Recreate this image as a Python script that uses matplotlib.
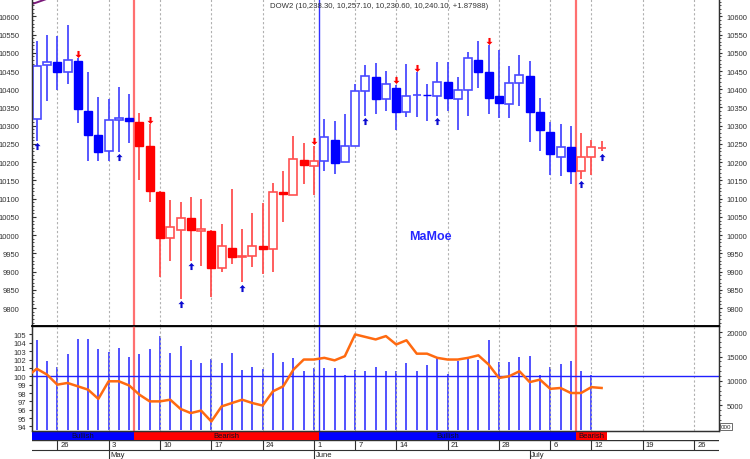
import numpy as np
import matplotlib.pyplot as plt
from matplotlib.path import Path

plt.rcParams['font.family'] = ['Liberation Sans Narrow', 'Liberation Sans', 'DejaVu Sans']

# daily OHLC (trading day index 0 = Apr 22)
opens = [10318, 10467, 10476, 10448, 10478, 10341, 10275, 10231, 10317, 10321,
         10309, 10244, 10118, 9992, 10014, 10047, 10011, 10011, 9909, 9964,
         9941, 9942, 9969, 9962, 10118, 10111, 10206, 10189, 10203, 10262,
         10200, 10245, 10394, 10433, 10373, 10404, 10339, 10384, 10385, 10381,
         10421, 10373, 10399, 10480, 10448, 10381, 10359, 10417, 10437, 10337,
         10282, 10215, 10241, 10175, 10215, 10238.3]
highs = [10533, 10549, 10547, 10576, 10485, 10448, 10378, 10373, 10405, 10387,
         10335, 10305, 10120, 10097, 10092, 10104, 10099, 10013, 10031, 10127,
         10017, 10061, 10087, 10142, 10177, 10273, 10253, 10245, 10319, 10314,
         10332, 10415, 10467, 10472, 10451, 10413, 10468, 10446, 10415, 10476,
         10474, 10433, 10501, 10533, 10520, 10509, 10465, 10494, 10478, 10375,
         10311, 10305, 10300, 10279, 10262, 10257.1]
lows = [10259, 10369, 10399, 10414, 10308, 10204, 10204, 10204, 10229, 10253,
        10150, 10090, 9885, 9930, 9825, 9930, 9915, 9830, 9898, 9921,
        9871, 9912, 9894, 9898, 10037, 10111, 10140, 10110, 10177, 10168,
        10200, 10245, 10328, 10332, 10341, 10287, 10323, 10325, 10314, 10328,
        10341, 10287, 10328, 10403, 10332, 10320, 10320, 10355, 10256, 10232,
        10165, 10161, 10139, 10154, 10165, 10230.6]
closes = [10465, 10476, 10448, 10481, 10346, 10275, 10229, 10317, 10321, 10314,
          10244, 10122, 9992, 10023, 10047, 10014, 10017, 9909, 9971, 9939,
          9942, 9971, 9962, 10119, 10113, 10209, 10191, 10204, 10268, 10198,
          10245, 10396, 10436, 10372, 10414, 10339, 10382, 10385, 10383, 10419,
          10376, 10399, 10485, 10448, 10376, 10362, 10417, 10439, 10339, 10287,
          10223, 10243, 10175, 10215, 10243, 10240.1]

buy_arrows = [0, 8, 14, 15, 20, 32, 39, 53, 55]
sell_arrows = [4, 11, 27, 35, 37, 44]

# trend signal changes (day index, new state)
signal_days = [10, 28, 53]
signal_states = ['Bearish', 'Bullish', 'Bearish']
first_state = 'Bullish'
last_day = 56

# band line running off the top at the left
band_x = [-1, 0, 1, 2]
band = [10629, 10638, 10648, 10657]

volume = [18300, 14070, 12940, 15420, 18650, 18650, 16490, 15970, 16770, 14820,
          15420, 16630, 19310, 15620, 17180, 14270, 13610, 14480, 13610, 15620,
          12260, 12940, 12400, 15620, 13950, 14620, 12060, 12600, 12740, 12600,
          11250, 12260, 12060, 12940, 11940, 11940, 13610, 12060, 13270, 14760,
          11390, 14070, 14620, 14270, 18300, 13810, 13950, 14820, 15160, 11130,
          12940, 13470, 14070, 12060, 11250]

# oscillator, starts one day before the first candle
osc = [99.9, 100.9, 100.2, 99.0, 99.2, 98.8, 98.4, 97.3, 99.4, 99.4, 98.9,
       97.8, 97.0, 97.0, 97.2, 96.1, 95.6, 95.9, 94.6, 96.4, 96.8,
       97.2, 96.8, 96.5, 98.2, 98.8, 100.8, 102.0, 102.0, 102.2, 101.9,
       102.4, 105.0, 104.7, 104.4, 104.8, 103.8, 104.3, 102.7, 102.7, 102.2,
       102.0, 102.0, 102.2, 102.5, 101.4, 99.8, 100.0, 100.6, 99.3, 99.6,
       98.5, 98.6, 98.0, 98.0, 98.7, 98.6]

week_idx = [2, 7, 12, 17, 22, 27, 31, 35, 40, 45, 50, 54, 59, 64]
week_labels = ['26', '3', '10', '17', '24', '1', '7', '14', '21', '28', '6', '12', '19', '26']
month_idx = [7, 27, 48]
month_labels = ['May', 'June', 'July']

title = 'DOW2 (10,238.30, 10,257.10, 10,230.60, 10,240.10, +1.87988)'

BLUE = '#0000ff'
RED = '#ff0000'
XLIM = (-0.46, 66.43)


def box(left, top, right, bottom):
    # pixel box -> figure fraction
    return [left / 750, 1 - bottom / 460, (right - left) / 750, (bottom - top) / 460]


fig = plt.figure(figsize=(7.5, 4.6), dpi=100)
ax = fig.add_axes(box(32, 0, 719, 327.3))
axl = fig.add_axes(box(32, 327.3, 719, 431.5))
axb = fig.add_axes(box(32, 431.5, 719, 441))
axd = fig.add_axes(box(32, 441, 719, 460))

# state of each day
n = len(opens)
bull = []
for i in range(n):
    state = first_state
    for d, s in zip(signal_days, signal_states):
        if i >= d:
            state = s
    bull.append(state == 'Bullish')

# ---- main price panel
for i in range(n):
    col = BLUE if bull[i] else RED
    wick = '#4a4aff' if bull[i] else '#ff5050'
    ax.vlines(i, lows[i], highs[i], color=wick, lw=1.3, zorder=2)
    lo = min(opens[i], closes[i])
    h = abs(closes[i] - opens[i])
    if closes[i] >= opens[i]:
        ax.bar(i, h, bottom=lo, width=0.78, facecolor='white', edgecolor=wick, lw=1.2, zorder=3)
    else:
        ax.bar(i, h, bottom=lo, width=0.78, facecolor=col, edgecolor=col, lw=1.0, zorder=3)

up = Path([(0, 1), (0.85, 0.1), (0.3, 0.1), (0.3, -1), (-0.3, -1), (-0.3, 0.1), (-0.85, 0.1), (0, 1)])
down = Path([(x, -y) for x, y in up.vertices])
ax.scatter(buy_arrows, [lows[i] - 15 for i in buy_arrows], marker=up, s=26, color='#0a0ad0', zorder=4, lw=0)
ax.scatter(sell_arrows, [highs[i] + 12 for i in sell_arrows], marker=down, s=26, color=RED, zorder=4, lw=0)

ax.plot(band_x, band, color='#7a1a7a', lw=1.4, zorder=2)

for a in (ax, axl):
    a.vlines(week_idx, 0, 1, transform=a.get_xaxis_transform(), color='#b0b0b0',
             lw=0.8, linestyle=(0, (2, 2)), zorder=1)
    for d, s in zip(signal_days, signal_states):
        if s == 'Bullish':
            a.axvline(d - 0.5, color='#3030ff', lw=1.0, zorder=1.5)
        else:
            a.axvline(d - 0.5, color='#ff7070', lw=1.6, zorder=1.5)

ax.set_xlim(XLIM)
ax.set_ylim(9750, 10647.5)
ax.set_xticks([])
yt = np.arange(9800, 10601, 50)
ax.set_yticks(yt)
ax.set_yticks(np.arange(9760, 10641, 10), minor=True)
ax.tick_params(axis='y', which='both', direction='in', labelsize=5.5, colors='#333333', pad=9)
ax.tick_params(axis='y', which='major', length=3)
ax.tick_params(axis='y', which='minor', length=1.5)
ax2 = ax.twinx()
ax2.set_ylim(ax.get_ylim())
ax2.set_yticks(yt)
ax2.set_yticks(np.arange(9760, 10641, 10), minor=True)
ax2.tick_params(axis='y', which='both', direction='out', labelsize=5.5, colors='#333333', pad=3)
ax2.tick_params(axis='y', which='major', length=2.5)
ax2.tick_params(axis='y', which='minor', length=1.2)
for a in (ax, ax2):
    a.spines['top'].set_visible(False)
    for s in ('left', 'right', 'bottom'):
        a.spines[s].set_color('#303030')
        a.spines[s].set_linewidth(0.9)

fig.text(270 / 750, 1 - 6 / 460, title, fontsize=5.6, color='#333333', va='center', ha='left')
fig.text(430 / 750, 1 - 237 / 460, 'MaMoe', fontsize=9, fontweight='bold', color='#2626ff',
         family='Liberation Sans', ha='center', va='center')

# ---- lower panel: oscillator + volume
axv = axl.twinx()
axv.vlines(np.arange(len(volume)), 0, volume, color='#3434ff', lw=1.2)
axv.set_ylim(-200, 21208)
axv.set_yticks([5000, 10000, 15000, 20000])
axv.set_yticks(np.arange(1000, 21000, 1000), minor=True)
axv.tick_params(axis='y', which='both', direction='out', labelsize=5.5, colors='#333333', pad=3)
axv.tick_params(axis='y', which='major', length=2.5)
axv.tick_params(axis='y', which='minor', length=1.2)

axl.set_zorder(axv.get_zorder() + 1)
axl.patch.set_visible(False)
axl.axhline(100, color='#2020ff', lw=1.0, zorder=2)
axl.plot(np.arange(-1, len(osc) - 1), osc, color='#ff6a10', lw=1.8, zorder=3)
axl.set_xlim(XLIM)
axl.set_ylim(93.52, 105.97)
axl.set_xticks([])
axl.set_yticks(np.arange(94, 106, 1))
axl.tick_params(axis='y', direction='out', length=2, labelsize=5.5, colors='#333333', pad=2)
for a in (axl, axv):
    for s in ('left', 'right', 'bottom'):
        a.spines[s].set_color('#303030')
        a.spines[s].set_linewidth(0.9)
    a.spines['top'].set_color('black')
    a.spines['top'].set_linewidth(1.1)
axv.set_xlim(XLIM)

fig.text(721 / 750, 1 - 427.5 / 460, '000', fontsize=4.5, color='#333333', va='center', ha='left',
         bbox=dict(boxstyle='square,pad=0.15', fc='white', ec='#333333', lw=0.5))

# ---- bullish / bearish strip
edges = [XLIM[0]] + [d - 0.5 for d in signal_days] + [last_day - 0.5]
states = [first_state] + signal_states
for k, s in enumerate(states):
    axb.axvspan(edges[k], edges[k + 1], color=BLUE if s == 'Bullish' else RED, lw=0)
    axb.text((edges[k] + edges[k + 1]) / 2, 0.5, s, ha='center', va='center',
             fontsize=5.5, color='#101020')
axb.set_xlim(XLIM)
axb.set_ylim(0, 1)
axb.axis('off')

# ---- date axis
axd.set_xlim(XLIM)
axd.set_ylim(0, 19)
axd.axis('off')
axd.axhline(19, color='#303030', lw=1.0)
axd.axhline(9, color='#303030', lw=0.8)
axd.vlines(week_idx, 9, 19, color='#303030', lw=0.8)
for xi, lab in zip(week_idx, week_labels):
    axd.text(xi + 0.3, 14, lab, fontsize=5.5, color='#222222', va='center', ha='left')
axd.vlines(month_idx, 0, 9, color='#303030', lw=0.8)
for xi, lab in zip(month_idx, month_labels):
    axd.text(xi + 0.15, 4.3, lab, fontsize=5.5, color='#222222', va='center', ha='left')

fig.savefig('out.png', dpi=100)
